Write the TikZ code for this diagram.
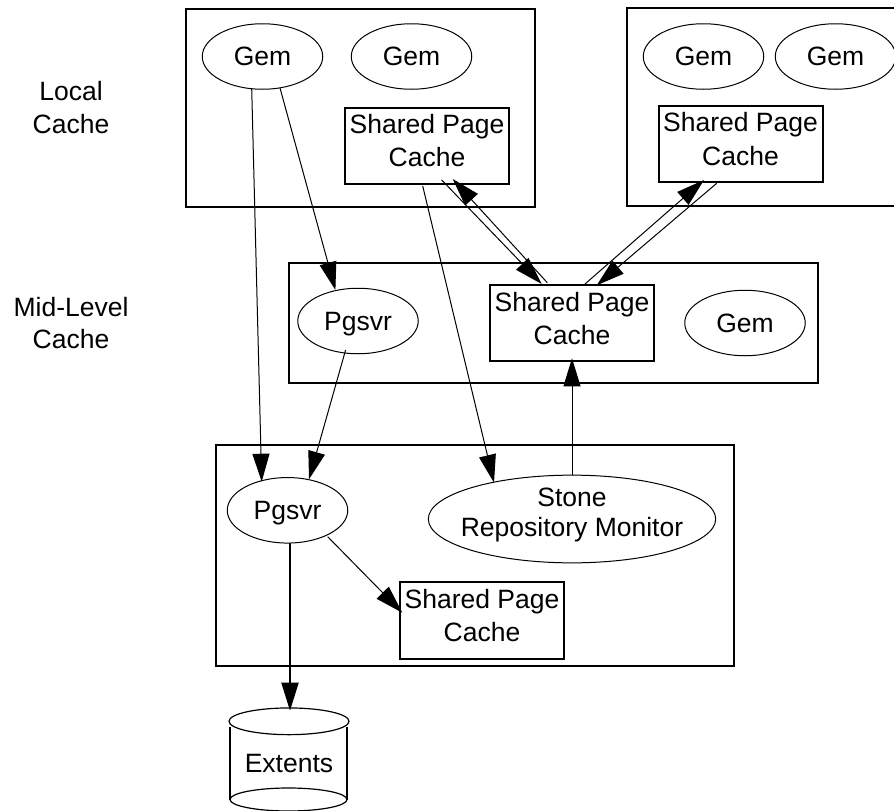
\documentclass[tikz,border=0pt]{standalone}
\usepackage{fontspec}
\setmainfont{Liberation Sans}
\usetikzlibrary{arrows.meta,shapes.geometric,calc}
% text set at exact baselines below the node centre; the nodes keep their drawn size
\newcommand{\bl}[2]{\raisebox{-#2pt}[0pt][0pt]{\makebox[0pt]{#1}}}
\tikzset{
  frame/.style={draw=black,line width=2pt,rectangle,inner sep=0pt,outer sep=0pt},
  cachebox/.style={draw=black,line width=2pt,rectangle,inner sep=0pt,outer sep=0pt,minimum width=164pt,minimum height=76.5pt},
  proc/.style={draw=black,line width=1pt,ellipse,inner sep=0pt,outer sep=0pt,minimum width=120.5pt,minimum height=65.5pt},
  plain/.style={inner sep=0pt,outer sep=0pt},
  link/.style={draw=black,line width=1pt,-{Triangle[length=28pt,width=17pt]}},
  linkthick/.style={draw=black,line width=2pt,-{Triangle[length=28pt,width=17pt]}}
}
\begin{document}
\begin{tikzpicture}[x=1pt,y=-1pt,font=\fontsize{26.5}{32}\selectfont]
\useasboundingbox (0,0) rectangle (894,811);
\clip (0,0) rectangle (894,811);
% containers
\node[frame,minimum width=349pt,minimum height=198pt] (boxA) at (360.5,108) {};
\node[frame,minimum width=300pt,minimum height=198pt] (boxB) at (777,107) {};
\node[frame,minimum width=529.5pt,minimum height=119.5pt] (boxC) at (553.5,323) {};
\node[frame,minimum width=518.3pt,minimum height=220.5pt] (boxD) at (474.9,555.3) {};
% processes
\node[proc] (gemA) at (262.5,56.5) {\bl{Gem}{9.2}};
\node[proc] (gemB) at (411.5,56.5) {\bl{Gem}{9.2}};
\node[proc] (gemC) at (703.5,56.5) {\bl{Gem}{9.2}};
\node[proc] (gemD) at (835.5,56.5) {\bl{Gem}{9.2}};
\node[proc] (gemE) at (745,323) {\bl{Gem}{9.2}};
\node[proc] (pgA) at (358,321) {\bl{Pgsvr}{9}};
\node[proc] (pgB) at (287.5,510.3) {\bl{Pgsvr}{9}};
\node[proc,minimum width=287.4pt,minimum height=87.7pt] (stone) at (572,519) {\bl{Stone}{-13}\bl{Repository Monitor}{17.7}};
% caches
\node[cachebox] (spcA) at (427,146) {\bl{Shared Page}{-12.7}\bl{Cache}{20.7}};
\node[cachebox] (spcB) at (740.5,144) {\bl{Shared Page}{-12.3}\bl{Cache}{21}};
\node[cachebox] (spcC) at (572,323) {\bl{Shared Page}{-11.3}\bl{Cache}{21.3}};
\node[cachebox] (spcD) at (482,620.3) {\bl{Shared Page}{-12}\bl{Cache}{21.4}};
% side labels
\node[plain] (lblLocal) at (71,117) {\bl{Local}{-16.3}\bl{Cache}{16.3}};
\node[plain] (lblMid) at (71,332) {\bl{Mid-Level}{-16}\bl{Cache}{16.3}};
% extents cylinder
\node[draw=black,line width=1.2pt,ellipse,inner sep=0pt,outer sep=0pt,minimum width=117pt,minimum height=23pt] (extBot) at (288.5,799.5) {};
\node[draw=black,line width=1.2pt,ellipse,inner sep=0pt,outer sep=0pt,minimum width=120pt,minimum height=26.7pt] (extTop) at (289,721.3) {};
\node[plain] (extents) at (289,763) {\bl{Extents}{9.3}};
\draw[line width=2pt] ($(extTop)+(-59,6)$) -- ($(extBot)+(-58.5,0)$);
\draw[line width=2pt] ($(extTop)+(58,6)$) -- ($(extBot)+(58.5,0)$);
% connectors
\draw[link] ($(gemA)+(-10.8,32)$) -- ($(pgB)+(-25.8,-28.6)$);
\draw[link] ($(gemA)+(17.5,31.5)$) -- ($(pgA)+(-22.6,-31)$);
\draw[link] ($(pgA)+(-12.4,29)$) -- ($(pgB)+(21.5,-31)$);
\draw[link] ($(spcA)+(-4.3,40)$) -- ($(stone)+(-78,-36.3)$);
\draw[link] ($(spcA)+(14.7,34)$) -- ($(spcC)+(-30.3,-39)$);
\draw[link] ($(spcC)+(-24.7,-40.3)$) -- ($(spcA)+(25.7,33)$);
\draw[link] ($(spcC)+(13,-39)$) -- ($(spcB)+(-36.5,36)$);
\draw[link] ($(spcB)+(-23.8,39.3)$) -- ($(spcC)+(24.7,-37.7)$);
\draw[link] ($(stone)+(0,-44)$) -- ($(spcC)+(0,35.3)$);
\draw[link] ($(pgB)+(40.2,26.4)$) -- ($(spcD)+(-79.7,-7.6)$);
\draw[linkthick] ($(pgB)+(2.5,33)$) -- ($(extTop)+(1,-10.6)$);
\end{tikzpicture}
\end{document}
